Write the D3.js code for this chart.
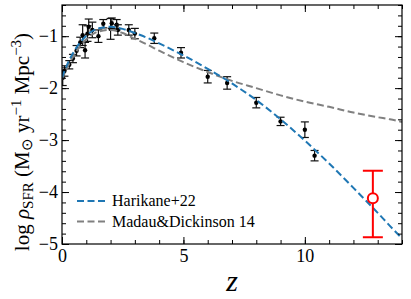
<!DOCTYPE html>
<html>
<head>
<meta charset="utf-8">
<script src="https://cdn.jsdelivr.net/npm/d3@7"></script>
<style>
  body { margin: 0; background: #fff; }
</style>
</head>
<body>
<div id="chart"></div>
<script>
// curves
const curveZ = [0, 0.25, 0.5, 0.75, 1, 1.5, 2, 2.5, 3, 3.5, 4, 5, 6, 7, 8, 9, 10, 11, 12, 13, 13.5, 14];
const harikane = [-1.80, -1.51, -1.29, -1.12, -0.99, -0.85, -0.82, -0.86, -0.94, -1.03, -1.14, -1.37, -1.63, -1.91, -2.23, -2.60, -3.01, -3.45, -3.92, -4.40, -4.65, -4.89];
const madau = [-1.83, -1.57, -1.36, -1.19, -1.06, -0.91, -0.88, -0.94, -1.05, -1.16, -1.28, -1.50, -1.69, -1.86, -2.00, -2.14, -2.26, -2.36, -2.47, -2.56, -2.60, -2.65];

// black data points: z, log rho, error
const obsZ = [0.03, 0.1, 0.3, 0.45, 0.6, 0.75, 0.85, 0.95, 1.05, 1.1, 1.25, 1.5, 1.7, 2.0, 2.05, 2.25, 2.3, 2.75, 3.0, 3.8, 4.9, 6.0, 6.8, 8.0, 9.0, 10.0, 10.4];
const obsV = [-1.80, -1.67, -1.55, -1.43, -1.28, -1.12, -0.98, -1.27, -0.95, -0.82, -0.88, -1.00, -0.76, -0.86, -0.75, -0.78, -0.88, -0.88, -0.95, -1.04, -1.32, -1.78, -1.90, -2.28, -2.64, -2.80, -3.30];
const obsErr = [0.15, 0.10, 0.08, 0.08, 0.10, 0.10, 0.20, 0.15, 0.15, 0.15, 0.15, 0.12, 0.08, 0.20, 0.10, 0.10, 0.10, 0.10, 0.10, 0.10, 0.10, 0.12, 0.12, 0.10, 0.08, 0.15, 0.10];

// red point
const redZ = 12.8, redV = -4.12, redLo = -4.87, redHi = -3.59;

const serif = "'Liberation Serif'";
const W = 411, H = 299;
const margin = {top: 5, right: 9, bottom: 55, left: 62};
const width = W - margin.left - margin.right;
const height = H - margin.top - margin.bottom;

const svg = d3.select("#chart").append("svg")
  .attr("width", W).attr("height", H);
const g = svg.append("g")
  .attr("transform", "translate(" + margin.left + "," + margin.top + ")");

const x = d3.scaleLinear().domain([0, 14]).range([0, width]);
const y = d3.scaleLinear().domain([-5, -0.4]).range([height, 0]);

svg.append("clipPath").attr("id", "clip")
  .append("rect").attr("width", width).attr("height", height);

const plot = g.append("g").attr("clip-path", "url(#clip)");

// error bars
const obs = obsZ.map((z, i) => ({z: z, v: obsV[i], e: obsErr[i]}));
const eb = plot.selectAll(".eb").data(obs).enter().append("g").attr("class", "eb");
eb.append("line")
  .attr("x1", d => x(d.z)).attr("x2", d => x(d.z))
  .attr("y1", d => y(d.v - d.e)).attr("y2", d => y(d.v + d.e))
  .attr("stroke", "#111").attr("stroke-width", 1.2);
eb.append("line")
  .attr("x1", d => x(d.z) - 4).attr("x2", d => x(d.z) + 4)
  .attr("y1", d => y(d.v - d.e)).attr("y2", d => y(d.v - d.e))
  .attr("stroke", "#111").attr("stroke-width", 1.2);
eb.append("line")
  .attr("x1", d => x(d.z) - 4).attr("x2", d => x(d.z) + 4)
  .attr("y1", d => y(d.v + d.e)).attr("y2", d => y(d.v + d.e))
  .attr("stroke", "#111").attr("stroke-width", 1.2);
eb.append("circle")
  .attr("cx", d => x(d.z)).attr("cy", d => y(d.v)).attr("r", 2.2)
  .attr("fill", "#000");

const line = d3.line()
  .x((d, i) => x(curveZ[i]))
  .y(d => y(d))
  .curve(d3.curveMonotoneX);

plot.append("path").datum(madau)
  .attr("fill", "none").attr("stroke", "#808080")
  .attr("stroke-width", 2).attr("stroke-dasharray", "7,3.5")
  .attr("d", line);
plot.append("path").datum(harikane)
  .attr("fill", "none").attr("stroke", "#1f77b4")
  .attr("stroke-width", 2).attr("stroke-dasharray", "7,3.5")
  .attr("d", line);

// red point
plot.append("line")
  .attr("x1", x(redZ)).attr("x2", x(redZ))
  .attr("y1", y(redLo)).attr("y2", y(redHi))
  .attr("stroke", "#f00").attr("stroke-width", 2);
[redLo, redHi].forEach(v => {
  plot.append("line")
    .attr("x1", x(redZ) - 10).attr("x2", x(redZ) + 10)
    .attr("y1", y(v)).attr("y2", y(v))
    .attr("stroke", "#f00").attr("stroke-width", 2);
});
plot.append("circle")
  .attr("cx", x(redZ)).attr("cy", y(redV)).attr("r", 5)
  .attr("fill", "#fff").attr("stroke", "#f00").attr("stroke-width", 2);

// axes, ticks inside on all sides
const xMajor = [0, 5, 10];
const xMinor = d3.range(0, 15, 1);
const yMajor = [-5, -4, -3, -2, -1];
const yMinor = d3.range(-50, -3, 2).map(v => v / 10);

function ticks(axis, vals, len) {
  return axis.tickValues(vals).tickSize(-len).tickPadding(5).tickSizeOuter(0);
}
const fmt = d => (d < 0 ? "\u2212" + Math.abs(d) : d);

g.append("g").attr("transform", "translate(0," + height + ")")
  .call(ticks(d3.axisBottom(x), xMinor, 4).tickFormat(""));
g.append("g").attr("transform", "translate(0," + height + ")")
  .call(ticks(d3.axisBottom(x), xMajor, 7).tickFormat(fmt).tickPadding(5));
g.append("g").call(ticks(d3.axisTop(x), xMinor, 4).tickFormat(""));
g.append("g").call(ticks(d3.axisTop(x), xMajor, 7).tickFormat(""));
g.append("g").call(ticks(d3.axisLeft(y), yMinor, 4).tickFormat(""));
g.append("g").call(ticks(d3.axisLeft(y), yMajor, 7).tickFormat(fmt).tickPadding(4));
g.append("g").attr("transform", "translate(" + width + ",0)")
  .call(ticks(d3.axisRight(y), yMinor, 4).tickFormat(""));
g.append("g").attr("transform", "translate(" + width + ",0)")
  .call(ticks(d3.axisRight(y), yMajor, 7).tickFormat(""));

g.selectAll(".domain").remove();
g.selectAll(".tick line").attr("stroke", "#000").attr("stroke-width", 1);
g.selectAll(".tick text").style("font-family", serif)
  .style("font-size", "18px").attr("fill", "#000");

g.append("rect").attr("width", width).attr("height", height)
  .attr("fill", "none").attr("stroke", "#000").attr("stroke-width", 1.2);

// legend
const legend = [
  {label: "Harikane+22", color: "#1f77b4"},
  {label: "Madau&Dickinson 14", color: "#808080"}
];
const lg = g.selectAll(".lg").data(legend).enter().append("g")
  .attr("transform", (d, i) => "translate(15," + (196 + i * 20.5) + ")");
lg.append("line").attr("x1", 0).attr("x2", 30)
  .attr("stroke", d => d.color).attr("stroke-width", 2)
  .attr("stroke-dasharray", "7,3.5");
lg.append("text").attr("x", 35).attr("y", 5)
  .style("font-family", serif).style("font-size", "16px").attr("fill", "#000")
  .text(d => d.label);

// x label
svg.append("text")
  .attr("x", margin.left + x(7)).attr("y", 291)
  .attr("text-anchor", "middle")
  .style("font-family", serif).style("font-size", "30px").style("font-style", "italic")
  .text("z");

// y label
const yl = svg.append("text")
  .attr("transform", "translate(29," + 142 + ") rotate(-90)")
  .attr("text-anchor", "middle")
  .style("font-family", serif).style("font-size", "21px");
yl.append("tspan").text("log ");
yl.append("tspan").style("font-style", "italic").text("\u03C1");
yl.append("tspan").style("font-size", "15px").attr("dy", 4).text("SFR");
yl.append("tspan").attr("dy", -4).text(" (M");
yl.append("tspan").style("font-size", "15px").attr("dy", 3).text("\u2299");
yl.append("tspan").attr("dy", -3).text(" yr");
yl.append("tspan").style("font-size", "15px").attr("dy", -8).text("\u22121");
yl.append("tspan").attr("dy", 8).text(" Mpc");
yl.append("tspan").style("font-size", "15px").attr("dy", -8).text("\u22123");
yl.append("tspan").attr("dy", 8).text(")");
</script>
</body>
</html>
